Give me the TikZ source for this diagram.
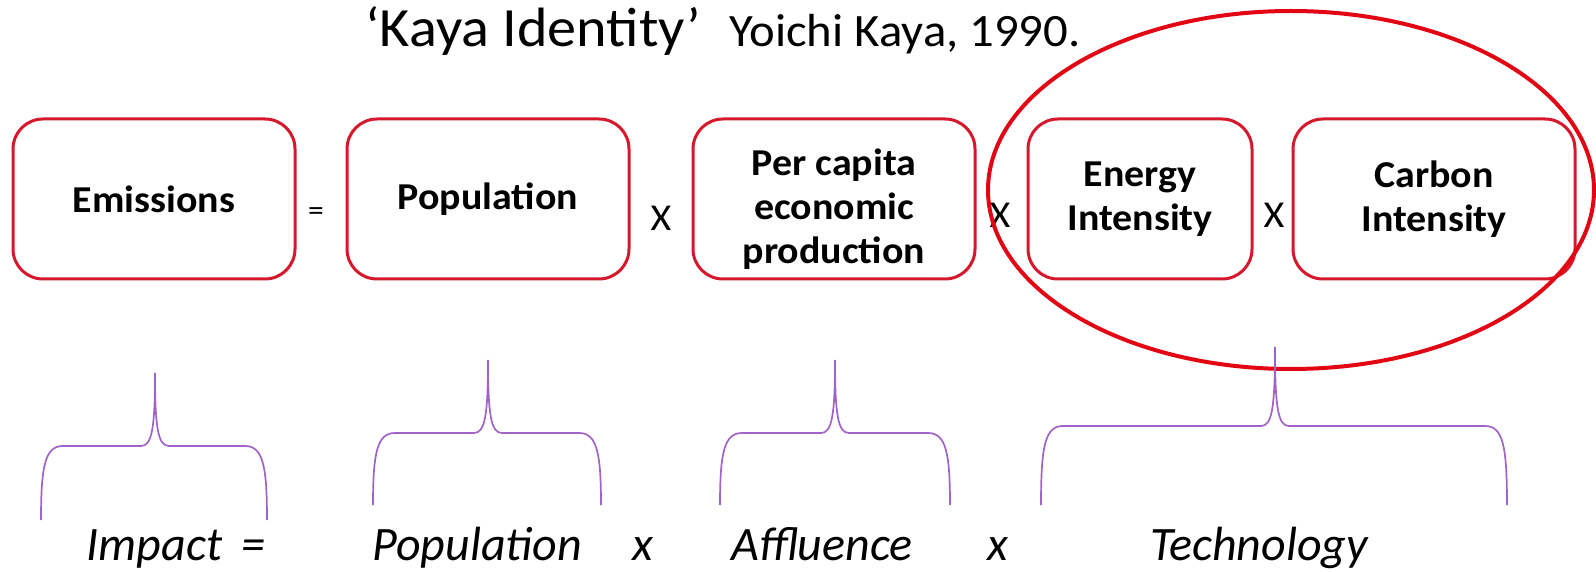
\documentclass[tikz,border=0pt]{standalone}
\usepackage{fontspec}
\setmainfont{Carlito}
\newfontfamily\wideboxfont[FakeStretch=1.05]{Carlito}
\newfontfamily\widetitlefont[FakeStretch=1.05]{Carlito}
\definecolor{boxred}{RGB}{214,24,44}
\definecolor{ellred}{RGB}{226,6,20}
\definecolor{bracepurple}{RGB}{160,100,200}
\begin{document}
\begin{tikzpicture}[x=0.5pt,y=-0.5pt,
  boxtext/.style={inner sep=0pt,align=center,
    font=\wideboxfont\fontsize{19}{22}\selectfont\bfseries},
  kbox/.style={boxtext,draw=boxred,line width=1.5pt,rounded corners=15pt,fill=white,
    minimum width=#1,minimum height=80pt},
  op/.style={font=\wideboxfont\fontsize{#1}{20}\selectfont,inner sep=0pt},
  lbl/.style={font=\fontsize{24}{28}\selectfont\itshape,anchor=base,inner sep=0pt},
  brace/.style={draw=bracepurple,line width=0.85pt}]
\useasboundingbox (0,0) rectangle (1596,572);
% title
\node[anchor=base west,inner sep=0pt,font=\widetitlefont\fontsize{27.7}{32}\selectfont] (title) at (365,47) {‘Kaya Identity’};
\node[anchor=base west,inner sep=0pt,font=\widetitlefont\fontsize{23.2}{26}\selectfont] (author) at (729,47) {Yoichi Kaya, 1990.};
% boxes
\node[kbox=141pt] (emis) at (154,199) {Emissions};
\node[kbox=141pt] (pop) at (488,199) {Population};
\node[kbox=141pt] (gdp) at (834,199) {};
\node[boxtext] (gdptext) at ([yshift=-5pt]gdp.center) {Per capita\\economic\\production};
\node[kbox=112pt] (energy) at (1140,199) {Energy\\Intensity};
\node[kbox=141pt] (carbon) at (1434,199) {Carbon\\Intensity};
% operators
\node[op=15] (eq1) at (316,214) {=};
\node[op=19] (x1) at (661,218) {X};
\node[op=19] (x2) at (1000,215) {X};
\node[op=19] (x3) at (1274,215) {X};
% ellipse
\draw[ellred,line width=2pt] (1291,190) ellipse [x radius=151.5pt,y radius=89.5pt];
% braces
\foreach \l/\t/\r/\h/\ty/\bl/\br in {41/155/267/446/373/520/520, 373/488/601/433/360/505/505, 720/835/950/433/360/505/505, 1041/1275/1507/426/347/505/505}{
  \draw[brace] (\l,\bl) .. controls (\l,\h+20) and (\l+4,\h) .. (\l+22,\h)
    -- (\t-14,\h) .. controls (\t-3,\h) and (\t,\h-18) .. (\t,\ty)
    .. controls (\t,\h-18) and (\t+3,\h) .. (\t+14,\h)
    -- (\r-22,\h) .. controls (\r-4,\h) and (\r,\h+20) .. (\r,\br);
}
% bottom labels
\node[lbl] (impact) at (176,560) {Impact\ \,=};
\node[lbl] (lpop) at (477,560) {Population};
\node[lbl] (lx1) at (643,560) {x};
\node[lbl] (aff) at (822,560) {Affluence};
\node[lbl] (lx2) at (998,560) {x};
\node[lbl] (tech) at (1259,560) {Technology};
\end{tikzpicture}
\end{document}
